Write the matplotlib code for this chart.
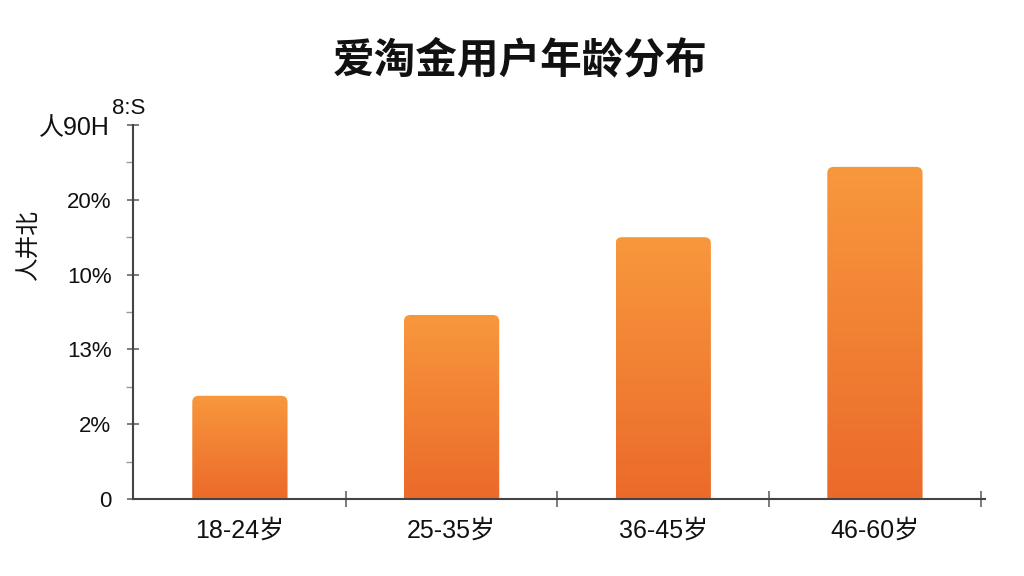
import matplotlib
matplotlib.use("Agg")
import matplotlib.pyplot as plt
import numpy as np
from matplotlib.patches import FancyBboxPatch
from matplotlib.colors import LinearSegmentedColormap

FAM = ['Liberation Sans', 'Noto Sans CJK SC', 'DejaVu Sans']
plt.rcParams['font.family'] = FAM

categories = ['18-24岁', '25-35岁', '36-45岁', '46-60岁']
values = [6.9, 12.3, 17.5, 22.2]
ytick_values = [0, 5, 10, 15, 20, 25]
ytick_labels = ['0', '2%', '13%', '10%', '20%', '']
title = '爱淘金用户年龄分布'
ylabel = '人井北'

fig = plt.figure(figsize=(10.24, 5.76), dpi=100)
ax = fig.add_axes([133/1024, 77/576, 852/1024, 374/576])

x = np.arange(len(categories))
width = 0.45
cmap = LinearSegmentedColormap.from_list('og', ['#EB6A2A', '#F8983D'])
grad = np.linspace(0, 1, 256).reshape(-1, 1)

for xi, v in zip(x, values):
    patch = FancyBboxPatch((xi - width/2, -2), width, v + 2,
                           boxstyle="round,pad=0,rounding_size=0.03",
                           mutation_aspect=14.1,
                           facecolor='none', edgecolor='none')
    ax.add_patch(patch)
    im = ax.imshow(grad, cmap=cmap, origin='lower', aspect='auto',
                   extent=[xi - width/2, xi + width/2, 0, v], zorder=2)
    im.set_clip_path(patch)

ax.set_aspect('auto')
ax.set_xlim(-0.505, 3.52)
ax.set_ylim(0, 25)

for s in ['top', 'right']:
    ax.spines[s].set_visible(False)
for s in ['left', 'bottom']:
    ax.spines[s].set_color('#444444')
    ax.spines[s].set_linewidth(1.5)

ax.set_yticks(ytick_values)
ax.set_yticklabels(ytick_labels, fontsize=16, color='#111111')
ax.set_yticks([2.5, 7.5, 12.5, 17.5, 22.5], minor=True)
ax.tick_params(axis='y', which='major', direction='inout', length=9, width=1.2, color='#666666', pad=11)
ax.tick_params(axis='y', which='minor', direction='out', length=5, width=1, color='#999999')

ax.set_xticks(x)
ax.set_xticklabels(categories, fontsize=18, color='#111111')
ax.tick_params(axis='x', which='major', length=0, pad=14)
ax.set_xticks([0.5, 1.5, 2.5, 3.5], minor=True)
ax.tick_params(axis='x', which='minor', direction='inout', length=12, width=1.2, color='#666666')

ax.set_ylabel(ylabel, fontsize=17, rotation=90, color='#111111', va='center', ha='center')
ax.yaxis.set_label_coords(-0.121, 0.68)

fig.text(0.508, 0.895, title, fontsize=30, fontweight='bold', ha='center', va='center', color='#111111')
fig.text(0.038, 0.778, '人90H', fontsize=18, ha='left', va='center', color='#111111')
fig.text(0.109, 0.812, '8:S', fontsize=16, ha='left', va='center', color='#111111')

fig.savefig('out.png', dpi=100, facecolor='white')
